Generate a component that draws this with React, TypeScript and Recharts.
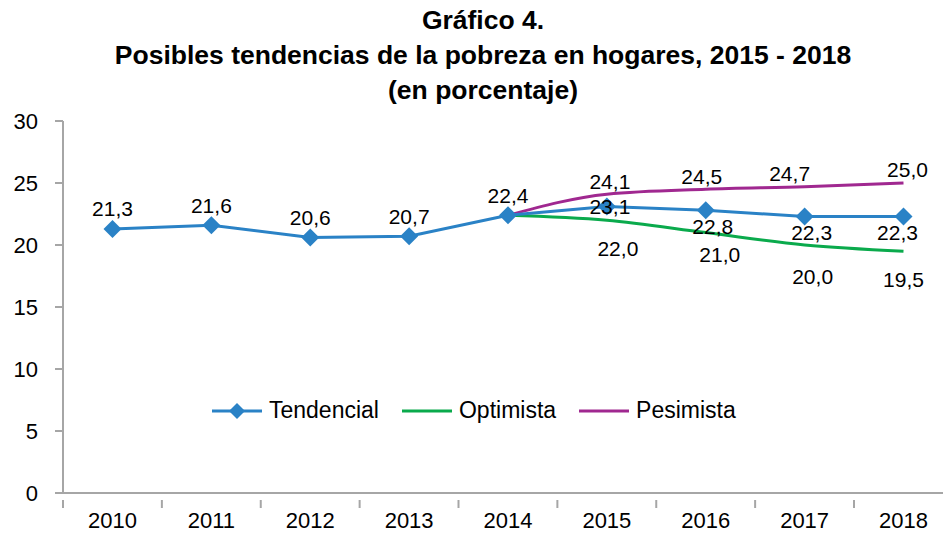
import React from "react"
import { LineChart, Line, XAxis, YAxis, Legend } from "recharts"

const years = ["2010", "2011", "2012", "2013", "2014", "2015", "2016", "2017", "2018"]
const tendencial = [21.3, 21.6, 20.6, 20.7, 22.4, 23.1, 22.8, 22.3, 22.3]
const optimista = [null, null, null, null, 22.4, 22.0, 21.0, 20.0, 19.5]
const pesimista = [null, null, null, null, 22.4, 24.1, 24.5, 24.7, 25.0]
const yTicks = [0, 5, 10, 15, 20, 25, 30]

const BLUE = "#2A82C6"
const GREEN = "#0AAA4C"
const PURPLE = "#A02890"
const AXIS = "#A6A6A6"
const FONT = '"Liberation Sans", Arial, sans-serif'
const HALF = 49.5 // half a category width

const data = years.map((year, i) => ({
  year,
  tendencial: tendencial[i],
  optimista: optimista[i],
  pesimista: pesimista[i],
}))

// label offsets (dx, dy) per point, to mimic the original placement
const tendOffsets = [
  [0, -20], [0, -20], [0, -20], [0, -20], [0, -20],
  [3, 0], [7, 16], [7, 16], [-6, 16],
]
const optOffsets = [[0, 0], [0, 0], [0, 0], [0, 0], [0, 0], [11, 28], [14, 22], [8, 31], [0, 28]]
const pesOffsets = [[0, 0], [0, 0], [0, 0], [0, 0], [0, 0], [3, -13], [-4, -13], [-15, -13], [4, -14]]

const fmt = (v: number) => v.toFixed(1).replace(".", ",")

function makeLabel(offsets: number[][], skip: number[]) {
  return (props: any) => {
    const { x, y, value, index } = props
    if (value == null || skip.includes(index)) return null
    const [dx, dy] = offsets[index]
    return (
      <text
        key={"l" + index}
        x={x + dx}
        y={y + dy}
        textAnchor="middle"
        dominantBaseline="central"
        fontSize={21}
        fontFamily={FONT}
        fill="#000"
      >
        {fmt(value)}
      </text>
    )
  }
}

const Diamond = (props: any) => {
  const { cx, cy, index } = props
  if (cx == null || cy == null) return null
  const r = 9
  return (
    <polygon
      key={"d" + index}
      points={`${cx},${cy - r} ${cx + r},${cy} ${cx},${cy + r} ${cx - r},${cy}`}
      fill={BLUE}
    />
  )
}

// category label centred, tick mark on the left boundary of the category
const XTick = (props: any) => {
  const { x, y, payload } = props
  return (
    <g>
      <line x1={x - HALF} y1={y - 1} x2={x - HALF} y2={y + 7} stroke={AXIS} strokeWidth={2} />
      <text x={x} y={y + 27} textAnchor="middle" fontSize={22} fontFamily={FONT} fill="#000">
        {payload.value}
      </text>
    </g>
  )
}

const legendItems = [
  { name: "Tendencial", color: BLUE, diamond: true },
  { name: "Optimista", color: GREEN, diamond: false },
  { name: "Pesimista", color: PURPLE, diamond: false },
]

const LegendContent = () => (
  <div style={{ display: "flex", alignItems: "center", fontFamily: FONT, fontSize: 23, color: "#000" }}>
    {legendItems.map((it) => (
      <div key={it.name} style={{ display: "flex", alignItems: "center", marginRight: 23 }}>
        <svg width={50} height={20} style={{ marginRight: 7 }}>
          <line x1={0} y1={10} x2={50} y2={10} stroke={it.color} strokeWidth={3} />
          {it.diamond && <polygon points="25,2 33,10 25,18 17,10" fill={it.color} />}
        </svg>
        <span>{it.name}</span>
      </div>
    ))}
  </div>
)

export default function App() {
  return (
    <div style={{ position: "absolute", left: 0, top: 0, width: 943, height: 537, overflow: "hidden", background: "#fff" }}>
      <div
        style={{
          position: "absolute",
          top: 3,
          left: 0,
          width: 966,
          textAlign: "center",
          fontFamily: FONT,
          fontWeight: "bold",
          fontSize: 26.5,
          lineHeight: "35px",
          color: "#000",
        }}
      >
        Gráfico 4.
        <br />
        Posibles tendencias de la pobreza en hogares, 2015 - 2018
        <br />
        (en porcentaje)
      </div>
      <LineChart width={953} height={537} data={data} margin={{ top: 121, right: 0, bottom: 0, left: 13 }}>
        <XAxis
          dataKey="year"
          height={44}
          padding={{ left: HALF, right: HALF }}
          tick={<XTick />}
          tickLine={false}
          axisLine={{ stroke: AXIS, strokeWidth: 2 }}
          interval={0}
        />
        <YAxis
          width={50}
          domain={[0, 30]}
          ticks={yTicks}
          tick={{ fontSize: 22, fill: "#000", fontFamily: FONT }}
          tickSize={8}
          tickMargin={17}
          axisLine={{ stroke: AXIS, strokeWidth: 2 }}
          tickLine={{ stroke: AXIS, strokeWidth: 2 }}
          interval={0}
        />
        <Legend
          layout="horizontal"
          verticalAlign="middle"
          align="center"
          content={<LegendContent />}
          wrapperStyle={{ top: 397, left: 212, width: 620 }}
        />
        <Line
          dataKey="optimista"
          type="monotone"
          stroke={GREEN}
          strokeWidth={3}
          dot={false}
          activeDot={false}
          isAnimationActive={false}
          label={makeLabel(optOffsets, [4])}
        />
        <Line
          dataKey="pesimista"
          type="monotone"
          stroke={PURPLE}
          strokeWidth={3}
          dot={false}
          activeDot={false}
          isAnimationActive={false}
          label={makeLabel(pesOffsets, [4])}
        />
        <Line
          dataKey="tendencial"
          type="linear"
          stroke={BLUE}
          strokeWidth={3}
          dot={<Diamond />}
          activeDot={false}
          isAnimationActive={false}
          label={makeLabel(tendOffsets, [])}
        />
      </LineChart>
    </div>
  )
}
